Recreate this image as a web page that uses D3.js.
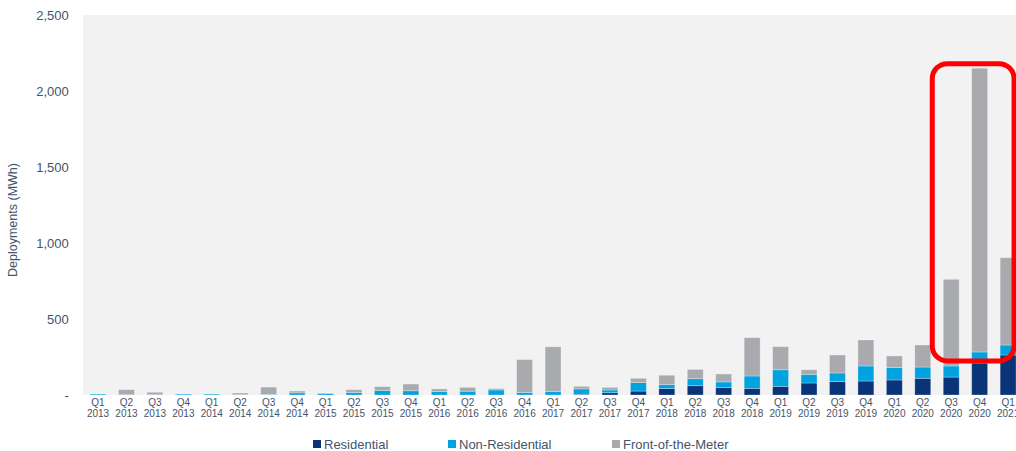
<!DOCTYPE html>
<html>
<head>
<meta charset="utf-8">
<script src="https://cdn.jsdelivr.net/npm/d3@7"></script>
<style>
  body { margin: 0; background: #ffffff; }
  svg { display: block; font-family: "Liberation Sans", Arial, sans-serif; }
</style>
</head>
<body>
<svg id="chart" width="1016" height="451"></svg>
<script>
'use strict';

// quarters on the x axis
const quarters = ['Q1', 'Q2', 'Q3', 'Q4', 'Q1', 'Q2', 'Q3', 'Q4', 'Q1', 'Q2', 'Q3', 'Q4',
    'Q1', 'Q2', 'Q3', 'Q4', 'Q1', 'Q2', 'Q3', 'Q4', 'Q1', 'Q2', 'Q3', 'Q4',
    'Q1', 'Q2', 'Q3', 'Q4', 'Q1', 'Q2', 'Q3', 'Q4', 'Q1'];
const years = ['2013', '2013', '2013', '2013', '2014', '2014', '2014', '2014',
    '2015', '2015', '2015', '2015', '2016', '2016', '2016', '2016',
    '2017', '2017', '2017', '2017', '2018', '2018', '2018', '2018',
    '2019', '2019', '2019', '2019', '2020', '2020', '2020', '2020', '2021'];

// MWh
const residential = [0, 0, 0, 0, 0, 0, 0, 0, 0, 0, 0, 0,
    0, 0, 0, 0, 0, 5, 15, 26, 42, 61, 50, 44,
    57, 79, 88, 92, 99, 110, 118, 210, 263];
const nonResidential = [6, 2, 2, 6, 6, 2, 4, 14, 10, 16, 30, 28,
    22, 25, 33, 17, 22, 35, 18, 56, 26, 46, 36, 81,
    109, 57, 57, 99, 81, 74, 73, 73, 66];
const frontOfMeter = [0, 33, 16, 0, 0, 11, 48, 12, 3, 19, 25, 44,
    18, 25, 9, 216, 295, 17, 17, 28, 62, 61, 52, 252,
    152, 30, 118, 171, 77, 145, 570, 1867, 574];

const seriesNames = ['Residential', 'Non-Residential', 'Front-of-the-Meter'];
const seriesColors = ['#0b3478', '#00a3e0', '#a9aaae'];
const yTicks = [0, 500, 1000, 1500, 2000, 2500];

// highlighted quarters (red box)
const highlightFrom = 30;
const highlightTo = 32;

const textColor = '#44546a';

const svg = d3.select('#chart');
const margin = {left: 83.8, top: 15, bottom: 56};
const plotH = 451 - margin.top - margin.bottom;
const step = 28.44;
const plotW = step * quarters.length;

const keys = quarters.map(function (q, i) { return q + ' ' + years[i]; });

const x = d3.scaleBand()
    .domain(keys)
    .range([margin.left, margin.left + plotW])
    .paddingInner(0.44)
    .paddingOuter(0.22);

const y = d3.scaleLinear()
    .domain([0, 2500])
    .range([margin.top + plotH, margin.top]);

// plot background
svg.append('rect')
    .attr('x', margin.left - 0.8)
    .attr('y', margin.top)
    .attr('width', plotW + 2)
    .attr('height', plotH)
    .attr('fill', '#f2f2f2');

// stack data
const rows = keys.map(function (k, i) {
    return {key: k, r: residential[i], n: nonResidential[i], f: frontOfMeter[i]};
});
const stacked = d3.stack().keys(['r', 'n', 'f'])(rows);

svg.append('g')
    .selectAll('g')
    .data(stacked)
    .join('g')
    .attr('fill', function (d, i) { return seriesColors[i]; })
    .selectAll('rect')
    .data(function (d) { return d; })
    .join('rect')
    .attr('x', function (d) { return x(d.data.key); })
    .attr('width', x.bandwidth())
    .attr('y', function (d) { return y(d[1]); })
    .attr('height', function (d) { return Math.max(0, y(d[0]) - y(d[1])); })
    .attr('stroke', 'rgba(255,255,255,0.35)')
    .attr('stroke-width', 0.8);

// y axis
const yAxis = d3.axisLeft(y)
    .tickValues(yTicks)
    .tickSize(0)
    .tickPadding(15)
    .tickFormat(function (d) { return d === 0 ? '-' : d3.format(',')(d); });

const yg = svg.append('g')
    .attr('transform', 'translate(' + margin.left + ',0)')
    .call(yAxis);
yg.select('.domain').remove();
yg.selectAll('text')
    .attr('fill', textColor)
    .style('font-size', '13px');

svg.append('text')
    .attr('transform', 'translate(17,' + (margin.top + plotH / 2 + 15) + ') rotate(-90)')
    .attr('text-anchor', 'middle')
    .attr('fill', textColor)
    .style('font-size', '12.5px')
    .text('Deployments (MWh)');

// x axis, two line labels
const xg = svg.append('g');
keys.forEach(function (k, i) {
    const cx = x(k) + x.bandwidth() / 2;
    const t = xg.append('text')
        .attr('x', cx)
        .attr('text-anchor', 'middle')
        .attr('fill', textColor)
        .style('font-size', '10px');
    t.append('tspan').attr('x', cx).attr('y', y(0) + 11).text(quarters[i]);
    t.append('tspan').attr('x', cx).attr('y', y(0) + 22).text(years[i]);
});

// red highlight box
const boxLeft = x(keys[highlightFrom]) - 11;
const boxRight = x(keys[highlightTo]) + x.bandwidth() - 2;
svg.append('rect')
    .attr('x', boxLeft)
    .attr('y', y(2180))
    .attr('width', boxRight - boxLeft)
    .attr('height', y(224) - y(2180))
    .attr('rx', 15)
    .attr('ry', 15)
    .attr('fill', 'none')
    .attr('stroke', '#ff0000')
    .attr('stroke-width', 5);

// legend
const legendX = [313, 448, 612];
const legend = svg.append('g');
seriesNames.forEach(function (name, i) {
    legend.append('rect')
        .attr('x', legendX[i])
        .attr('y', 440)
        .attr('width', 8)
        .attr('height', 8)
        .attr('fill', seriesColors[i]);
    legend.append('text')
        .attr('x', legendX[i] + 11)
        .attr('y', 448.5)
        .attr('fill', textColor)
        .style('font-size', '13px')
        .text(name);
});
</script>
</body>
</html>
